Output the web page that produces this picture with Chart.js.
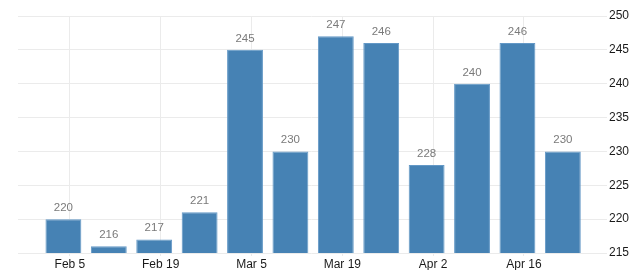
<!DOCTYPE html>
<html>
<head>
<meta charset="utf-8">
<script src="https://cdn.jsdelivr.net/npm/chart.js@4/dist/chart.umd.min.js"></script>
<style>
  html, body { margin: 0; padding: 0; background: #fff; }
  #wrap { width: 640px; height: 270px; }
</style>
</head>
<body>
<div id="wrap"><canvas id="barChart"></canvas></div>
<script>
// weekly values
const weekDates = ['2018-02-04', '2018-02-11', '2018-02-18', '2018-02-25', '2018-03-04', '2018-03-11',
                   '2018-03-18', '2018-03-25', '2018-04-01', '2018-04-08', '2018-04-15', '2018-04-22'];
const weekValues = [220, 216, 217, 221, 245, 230, 247, 246, 228, 240, 246, 230];

// x axis ticks
const tickDates = ['2018-02-05', '2018-02-19', '2018-03-05', '2018-03-19', '2018-04-02', '2018-04-16'];
const tickLabels = ['Feb 5', 'Feb 19', 'Mar 5', 'Mar 19', 'Apr 2', 'Apr 16'];

// y axis ticks
const yTicks = [215, 220, 225, 230, 235, 240, 245, 250];

const DAY = 86400000;
const dayOf = s => Date.parse(s + 'T00:00:00Z') / DAY;

const gridColor = '#ebebeb';
const labelFont = 'Liberation Sans';

const valueLabels = {
    id: 'valueLabels',
    afterDatasetsDraw(chart) {
        const ctx = chart.ctx;
        const meta = chart.getDatasetMeta(0);
        ctx.save();
        ctx.font = '11.5px "' + labelFont + '"';
        ctx.fillStyle = '#7a7a7a';
        ctx.textAlign = 'center';
        ctx.textBaseline = 'alphabetic';
        meta.data.forEach((bar, i) => {
            ctx.fillText(String(weekValues[i]), bar.x, bar.y - 8);
        });
        ctx.restore();
    }
};

new Chart(document.getElementById('barChart'), {
    type: 'bar',
    data: {
        datasets: [{
            data: weekDates.map((d, i) => ({ x: dayOf(d), y: weekValues[i] })),
            backgroundColor: '#4682b4',
            borderColor: '#6398c6',
            borderWidth: 1,
            barPercentage: 0.79,
            categoryPercentage: 1
        }]
    },
    options: {
        responsive: true,
        maintainAspectRatio: false,
        animation: false,
        layout: { padding: { left: 18, top: 16, right: 0, bottom: 0 } },
        plugins: { legend: { display: false }, tooltip: { enabled: false } },
        scales: {
            x: {
                type: 'linear',
                offset: false,
                min: dayOf('2018-01-28'),
                max: dayOf('2018-04-28') + 0.5,
                afterBuildTicks: axis => { axis.ticks = tickDates.map(d => ({ value: dayOf(d) })); },
                afterFit: axis => { axis.height = 17; },
                grid: { color: gridColor, tickLength: 3, offset: false },
                border: { display: false },
                ticks: {
                    autoSkip: false,
                    maxRotation: 0,
                    padding: 1,
                    color: '#1a1a1a',
                    font: { family: labelFont, size: 12 },
                    callback: v => tickLabels[tickDates.findIndex(d => dayOf(d) === v)]
                }
            },
            y: {
                position: 'right',
                min: 215,
                max: 250,
                afterBuildTicks: axis => { axis.ticks = yTicks.map(v => ({ value: v })); },
                afterFit: axis => { axis.width = 35; },
                grid: { color: gridColor, tickLength: 2 },
                border: { display: false },
                ticks: {
                    padding: 2,
                    color: '#1a1a1a',
                    font: { family: labelFont, size: 12 }
                }
            }
        }
    },
    plugins: [valueLabels]
});
</script>
</body>
</html>
